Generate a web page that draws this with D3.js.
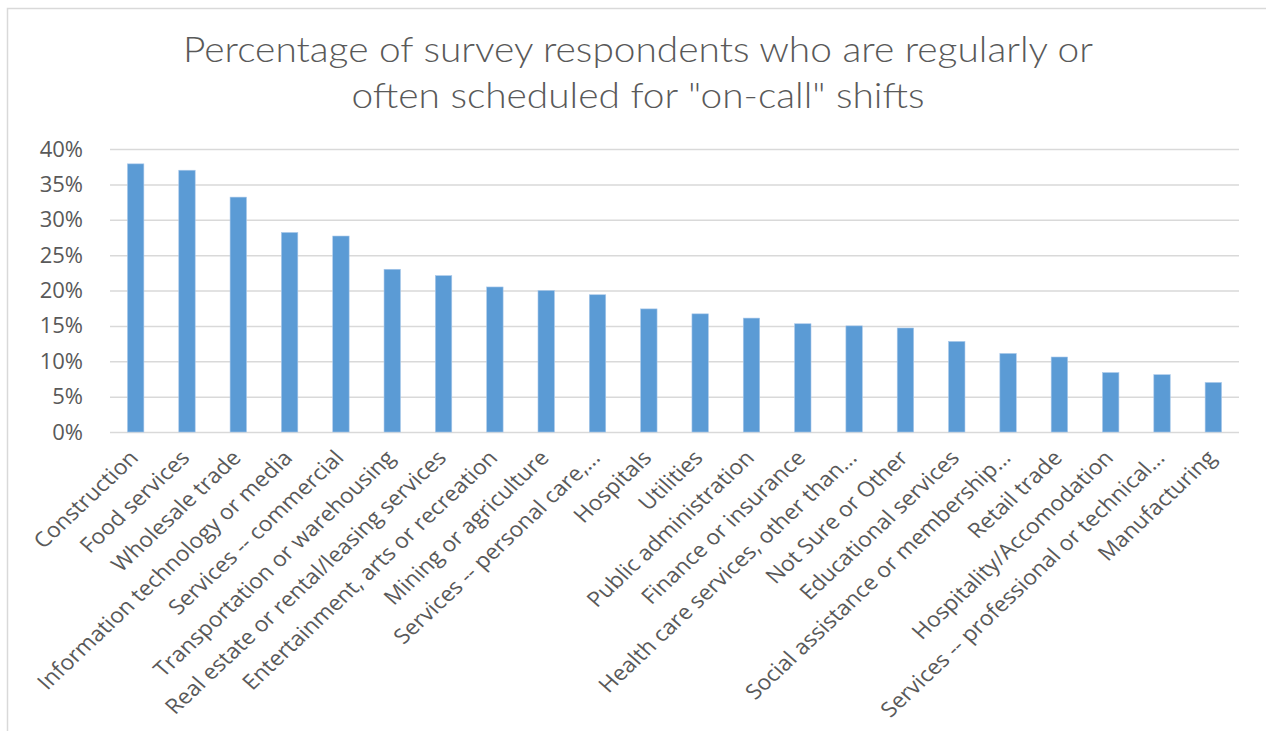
<!DOCTYPE html>
<html>
<head>
<meta charset="utf-8">
<script src="https://cdn.jsdelivr.net/npm/d3@7"></script>
<style>
  body { margin: 0; background: #fff; }
  svg { display: block; }
  .tick text { fill: #595959; }
</style>
</head>
<body>
<svg id="chart" width="1266" height="731"></svg>
<script>
var categories = [
  "Construction",
  "Food services",
  "Wholesale trade",
  "Information technology or media",
  "Services -- commercial",
  "Transportation or warehousing",
  "Real estate or rental/leasing services",
  "Entertainment, arts or recreation",
  "Mining or agriculture",
  "Services -- personal care,...",
  "Hospitals",
  "Utilities",
  "Public administration",
  "Finance or insurance",
  "Health care services, other than...",
  "Not Sure or Other",
  "Educational services",
  "Social assistance or membership...",
  "Retail trade",
  "Hospitality/Accomodation",
  "Services -- professional or technical...",
  "Manufacturing"
];

// share of respondents, in percent
var values = [37.9, 37.0, 33.2, 28.2, 27.7, 23.0, 22.1, 20.5, 20.0, 19.4, 17.4,
  16.7, 16.1, 15.3, 15.0, 14.7, 12.8, 11.1, 10.6, 8.4, 8.1, 7.0];

var yTicks = [0, 5, 10, 15, 20, 25, 30, 35, 40];

var titleLines = [
  "Percentage of survey respondents who are regularly or",
  "often scheduled for \"on-call\" shifts"
];

var svg = d3.select("#chart");

// chart frame (runs off the right and bottom edge in the original)
svg.append("rect")
  .attr("x", 7.5)
  .attr("y", 8.5)
  .attr("width", 1300)
  .attr("height", 800)
  .attr("fill", "none")
  .attr("stroke", "#d9d9d9")
  .attr("stroke-width", 1.5);

var plotLeft = 110, plotRight = 1239, plotTop = 149, plotBottom = 432;

var x = d3.scaleBand()
  .domain(categories)
  .range([plotLeft, plotRight])
  .paddingInner(0.68)
  .paddingOuter(0.34);

var y = d3.scaleLinear()
  .domain([0, 40])
  .range([plotBottom, plotTop]);

// gridlines + y labels
var yAxis = svg.append("g")
  .attr("transform", "translate(" + plotLeft + ",0)")
  .call(d3.axisLeft(y)
    .tickValues(yTicks)
    .tickSize(-(plotRight - plotLeft))
    .tickPadding(27)
    .tickFormat(function (d) { return d + "%"; }));

yAxis.select(".domain").remove();
yAxis.selectAll(".tick line")
  .attr("stroke", "#d9d9d9")
  .attr("stroke-width", 1.5);
yAxis.selectAll(".tick text")
  .attr("font-family", "'Open Sans', sans-serif")
  .attr("font-size", "22px");

// bars
svg.append("g")
  .selectAll("rect")
  .data(values)
  .enter()
  .append("rect")
  .attr("x", function (d, i) { return x(categories[i]); })
  .attr("y", function (d) { return y(d); })
  .attr("width", x.bandwidth())
  .attr("height", function (d) { return y(0) - y(d); })
  .attr("fill", "#5b9bd5")
  .attr("stroke", "#a9c8ea")
  .attr("stroke-width", 0.6);

// x labels, rotated 45deg but the whole picture is a bit wider than tall
var xAxis = svg.append("g")
  .attr("transform", "translate(0," + plotBottom + ")")
  .call(d3.axisBottom(x).tickSize(0).tickPadding(0));

xAxis.select(".domain").remove();
xAxis.selectAll(".tick text")
  .attr("font-family", "'Open Sans', sans-serif")
  .attr("font-size", "21px")
  .attr("text-anchor", "end")
  .attr("y", 0)
  .attr("dy", 0)
  .attr("transform", "translate(4,27) scale(1.1,1) rotate(-46)");

// title, squeezed a bit like the original condensed font
var title = svg.append("g")
  .selectAll("text")
  .data(titleLines)
  .enter()
  .append("text")
  .attr("x", 638)
  .attr("y", function (d, i) { return 62 + i * 46; })
  .attr("text-anchor", "middle")
  .attr("font-family", "Lato, sans-serif")
  .attr("font-weight", 300)
  .attr("font-size", "36px")
  .attr("fill", "#595959")
  .text(function (d) { return d; });

var firstLen = title.node().getComputedTextLength();
var squeeze = 910 / firstLen;
title.each(function () {
  var len = this.getComputedTextLength();
  d3.select(this)
    .attr("textLength", len * squeeze)
    .attr("lengthAdjust", "spacingAndGlyphs");
});
</script>
</body>
</html>
